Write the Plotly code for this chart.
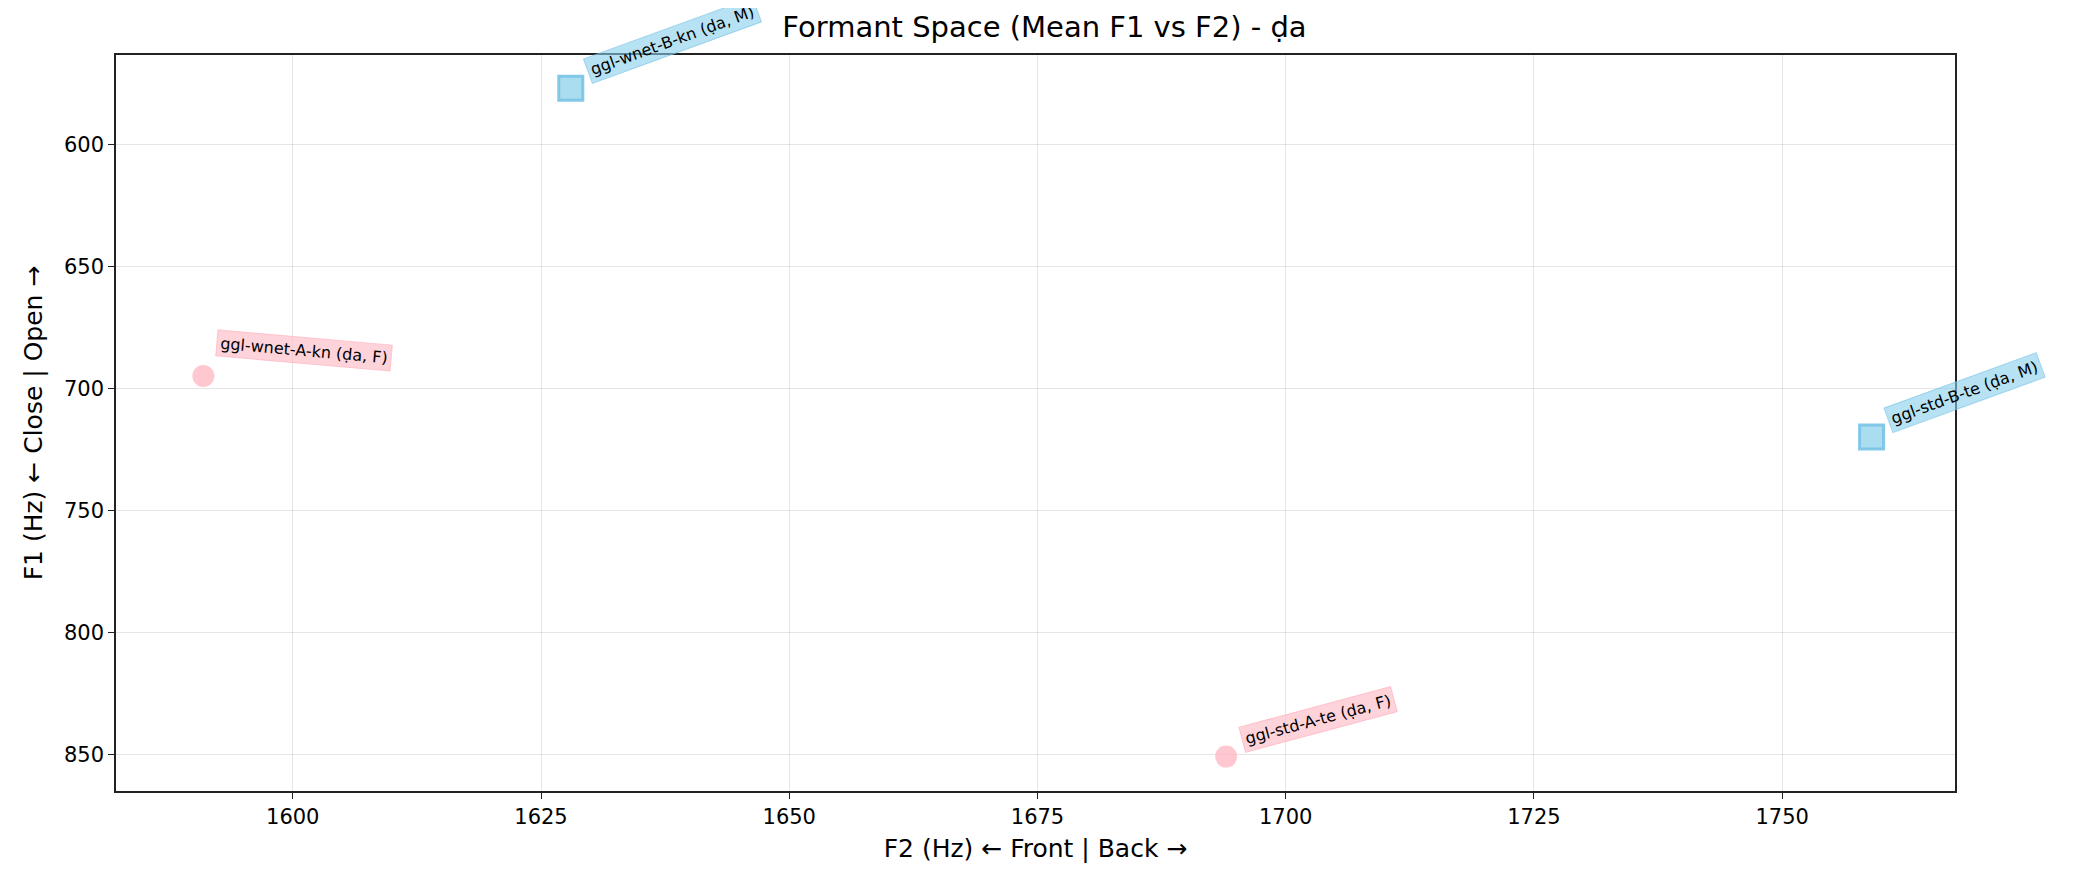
import plotly.graph_objects as go

speakers = ['ggl-wnet-A-kn', 'ggl-wnet-B-kn', 'ggl-std-A-te', 'ggl-std-B-te']
genders = ['F', 'M', 'F', 'M']
f2_values = [1591, 1628, 1694, 1759]
f1_values = [695, 577, 851, 720]
label_angles = [5, -20, -15, -20]
vowel = 'ḍa'

FONT = 'DejaVu Sans'
style = {
    'F': dict(symbol='circle', color='rgba(255,182,193,0.75)', line='rgba(255,182,193,0.75)',
              box='rgba(255,192,203,0.7)', border='rgba(255,170,185,0.6)'),
    'M': dict(symbol='square', color='rgba(135,206,235,0.7)', line='rgba(120,195,230,0.9)',
              box='rgba(135,206,235,0.6)', border='rgba(120,195,230,0.6)'),
}

fig = go.Figure()
for g in ['F', 'M']:
    idx = [i for i, s in enumerate(genders) if s == g]
    st = style[g]
    fig.add_trace(go.Scatter(
        x=[f2_values[i] for i in idx], y=[f1_values[i] for i in idx],
        mode='markers', showlegend=False,
        marker=dict(symbol=st['symbol'], size=22 if g == 'F' else 24, color=st['color'],
                    line=dict(color=st['line'], width=3 if g == 'M' else 0)),
    ))

for i, name in enumerate(speakers):
    st = style[genders[i]]
    fig.add_annotation(
        x=f2_values[i], y=f1_values[i], text=f'{name} ({vowel}, {genders[i]})',
        showarrow=False, xanchor='left', yanchor='bottom', xshift=12, yshift=4,
        textangle=label_angles[i], font=dict(family=FONT, size=16, color='black'),
        bgcolor=st['box'], bordercolor=st['border'], borderwidth=1, borderpad=3,
    )

axis_common = dict(showline=True, linecolor='#222', linewidth=1.5, mirror=True,
                   showgrid=True, gridcolor='rgba(0,0,0,0.1)', ticks='outside',
                   tickcolor='#222', ticklen=6, zeroline=False,
                   tickfont=dict(family=FONT, size=21, color='black'))

fig.update_layout(
    width=2073, height=883, plot_bgcolor='white', paper_bgcolor='white',
    margin=dict(l=108, r=126, t=47, b=100),
    title=dict(text=f'Formant Space (Mean F1 vs F2) - {vowel}', x=0.5, xanchor='center',
               y=0.99, yanchor='top', font=dict(family=FONT, size=29, color='black')),
    xaxis=dict(range=[1582.2, 1767.4], dtick=25,
               title=dict(text='F2 (Hz) ← Front | Back →', font=dict(family=FONT, size=25, color='black'),
                          standoff=12), **axis_common),
    yaxis=dict(range=[865.1, 563.4], dtick=50,
               title=dict(text='F1 (Hz) ← Close | Open →', font=dict(family=FONT, size=25, color='black'),
                          standoff=14), **axis_common),
)

fig.write_html('out.html')
